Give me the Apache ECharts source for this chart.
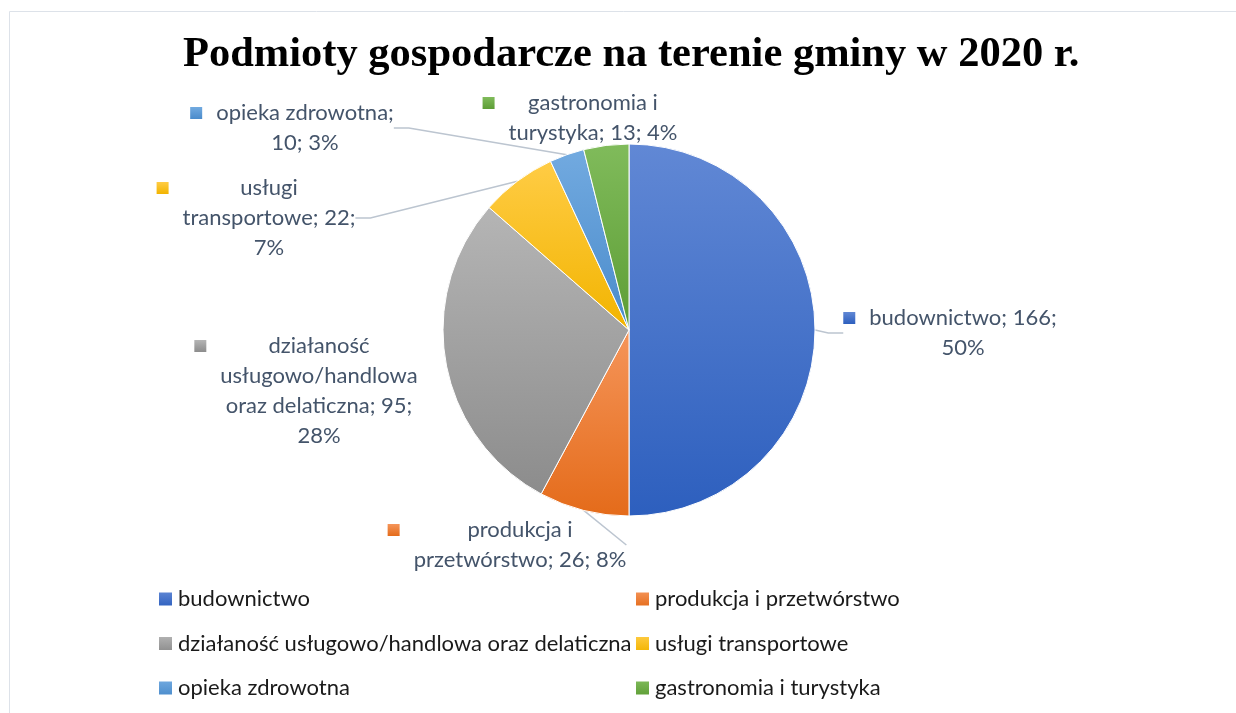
<!DOCTYPE html>
<html>
<head>
<meta charset="utf-8">
<script src="https://cdn.jsdelivr.net/npm/echarts@6/dist/echarts.min.js"></script>
<style>
  html, body { margin: 0; padding: 0; background: #fff; }
  #main { width: 1236px; height: 713px; }
</style>
</head>
<body>
<div id="main"></div>
<script>
// dane
var names = ['budownictwo', 'produkcja i przetwórstwo', 'działaność usługowo/handlowa oraz delaticzna',
  'usługi transportowe', 'opieka zdrowotna', 'gastronomia i turystyka'];
var values = [166, 26, 95, 22, 10, 13];
// ile słów w kolejnych wierszach etykiety
var labelBreaks = [[2, 1], [2, 3], [1, 1, 3, 1], [1, 2, 1], [2, 2], [2, 3]];

// wygląd
var colorsTop = ['#6188d5', '#f5955a', '#b5b5b5', '#ffcc45', '#72aae0', '#80bb5b'];
var colorsBottom = ['#2d5fbe', '#e46b1a', '#8c8c8c', '#f2b400', '#4a8bcb', '#5d9d35'];
var labelPos = [[950, 333], [507, 545], [306, 391], [256, 218], [292, 128], [580, 118]];
var showLine = [true, true, false, true, true, false];

function grad(i) {
  return new echarts.graphic.LinearGradient(0, 0, 0, 1, [
    { offset: 0, color: colorsTop[i] },
    { offset: 1, color: colorsBottom[i] }
  ]);
}

var rich = {
  g: { width: 14, height: 12, align: 'left' },
  s: { width: 26, height: 12, align: 'left' },
  t: { fontFamily: 'Lato', fontSize: 22, lineHeight: 30, color: '#44546a', align: 'center' }
};
names.forEach(function (n, i) {
  rich['m' + i] = { width: 12, height: 12, backgroundColor: grad(i), align: 'left', verticalAlign: 'middle' };
});

var chartData = names.map(function (n, i) {
  return {
    name: n,
    value: values[i],
    itemStyle: { color: grad(i) },
    labelLine: { show: showLine[i] }
  };
});

var legendText = { fontFamily: 'Lato', fontSize: 22, lineHeight: 22, color: '#1a1a1a' };

var myChart = echarts.init(document.getElementById('main'));
var option = {
  animation: false,
  title: {
    text: 'Podmioty gospodarcze na terenie gminy w 2020 r.',
    left: 178,
    top: 29,
    textStyle: { fontFamily: 'Liberation Serif', fontWeight: 'bold', fontSize: 42.5, color: '#000' }
  },
  graphic: [{
    type: 'rect',
    shape: { x: 9.5, y: 11.5, width: 1240, height: 720 },
    style: { fill: 'none', stroke: '#dde2e9', lineWidth: 1 }
  }],
  legend: [
    {
      data: [names[0], names[2], names[4]],
      orient: 'vertical',
      left: 152,
      top: 583,
      icon: 'rect',
      itemWidth: 15,
      itemHeight: 15,
      itemGap: 22.5,
      textStyle: legendText
    },
    {
      data: [names[1], names[3], names[5]],
      orient: 'vertical',
      left: 629,
      top: 583,
      icon: 'rect',
      itemWidth: 15,
      itemHeight: 15,
      itemGap: 22.5,
      textStyle: legendText
    }
  ],
  series: [{
    type: 'pie',
    center: [629, 330],
    radius: 186,
    startAngle: 90,
    clockwise: true,
    percentPrecision: 0,
    avoidLabelOverlap: false,
    itemStyle: { borderColor: '#fff', borderWidth: 1 },
    label: {
      show: true,
      position: 'outside',
      rich: rich,
      formatter: function (p) {
        var words = (p.name + '; ' + p.value + '; ' + p.percent + '%').split(' ');
        var out = [];
        var k = 0;
        labelBreaks[p.dataIndex].forEach(function (cnt, li) {
          var line = words.slice(k, k + cnt).join(' ');
          k += cnt;
          out.push(li === 0 ? '{m' + p.dataIndex + '|}{g|}{t|' + line + '}' : '{s|}{t|' + line + '}');
        });
        return out.join('\n');
      }
    },
    labelLine: {
      length: 15,
      length2: 15,
      lineStyle: { color: '#bcc5d0', width: 1.5 }
    },
    labelLayout: function (p) {
      var pos = labelPos[p.dataIndex];
      return { x: pos[0], y: pos[1], align: 'center', verticalAlign: 'middle' };
    },
    emphasis: { scale: false },
    data: chartData
  }]
};
myChart.setOption(option);
window.addEventListener('resize', function () {
  myChart.resize();
});
</script>
</body>
</html>
